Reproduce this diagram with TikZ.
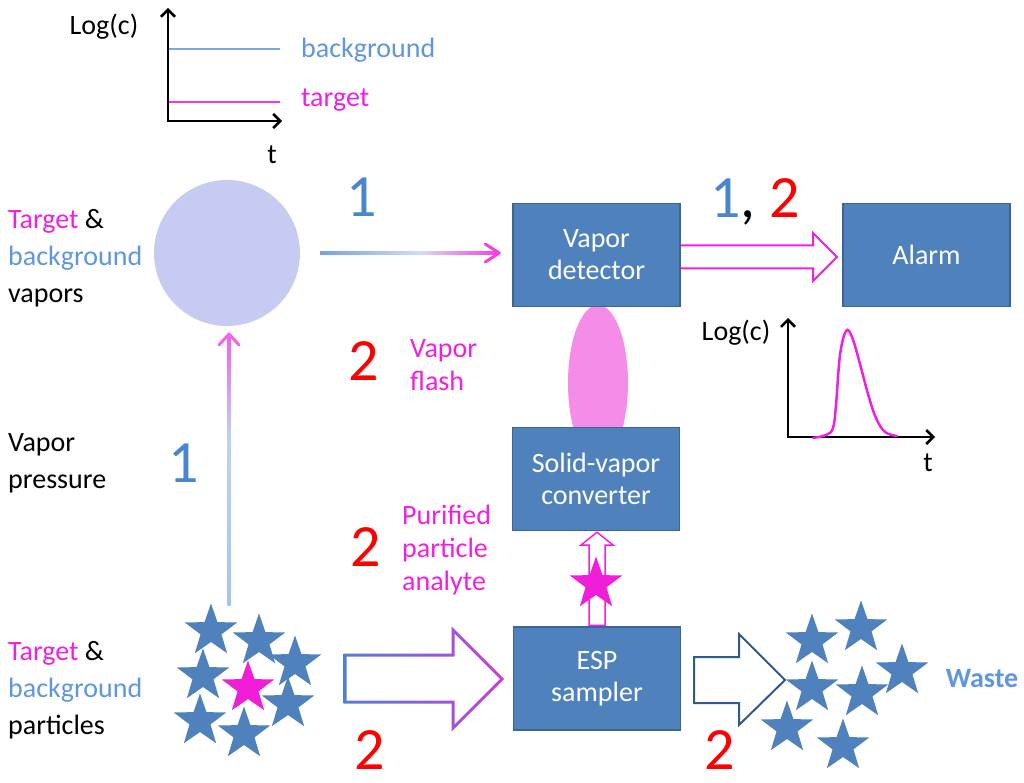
\documentclass[tikz,border=0pt]{standalone}
\usepackage{fontspec}
\setmainfont{Carlito}
\usetikzlibrary{shapes.geometric,arrows.meta,calc}
\definecolor{boxblue}{HTML}{4F81BD}
\definecolor{boxedge}{HTML}{3A6596}
\definecolor{mag}{HTML}{F020E0}
\definecolor{txtblue}{HTML}{5E97DD}
\definecolor{numblue}{HTML}{4A86D0}
\definecolor{numred}{HTML}{FF0000}
\definecolor{circfill}{HTML}{C6CBF1}
\definecolor{ellfill}{HTML}{F48CE8}
\definecolor{starblue}{HTML}{4F81BD}
\definecolor{starmag}{HTML}{F01ED8}
\definecolor{darkarrow}{HTML}{2F5B8C}
\definecolor{lightblue}{HTML}{A8C2EE}
\definecolor{bgline}{HTML}{7AA7E0}
\definecolor{tgline}{HTML}{FF33DD}
\definecolor{arrblue}{HTML}{78A3DD}
\definecolor{arrpale}{HTML}{D2DDF3}
\definecolor{grA}{HTML}{5080D0}
\definecolor{grB}{HTML}{7C58D0}
\definecolor{grC}{HTML}{C83CDC}
\begin{document}
\begin{tikzpicture}[x=1pt,y=-1pt,
  box/.style={draw=boxedge, line width=1.5pt, fill=boxblue, minimum width=167pt, minimum height=103pt, text=white, align=center, font=\fontsize{28}{32}\selectfont, inner sep=0pt},
  lbl/.style={align=left, anchor=west, font=\fontsize{28}{37}\selectfont, inner sep=0pt},
  num/.style={font=\fontsize{60}{60}\selectfont, inner sep=0pt, anchor=base},
  bstar/.style={star, star points=5, star point ratio=2.5, minimum size=55pt, inner sep=0pt, fill=starblue},
  axisline/.style={line width=2.5pt, -{Straight Barb[length=7pt,width=14pt]}},
  plainlbl/.style={font=\fontsize{28}{34}\selectfont, inner sep=0pt},
]
\useasboundingbox (0,0) rectangle (1024,783);

% ---------- top graph ----------
\coordinate (o1) at (168,121);
\coordinate (y1) at (168,8);
\coordinate (x1) at (282,121);
\draw[bgline, line width=1.5pt] (169,49) -- (280,49);
\draw[tgline, line width=2pt] (169,102) -- (280,102);
\draw[axisline] (o1) -- (y1);
\draw[axisline] ($(o1)+(-1.25,0)$) -- (x1);
\node[plainlbl] (logc1) at (104,27) {Log(c)};
\node[plainlbl] (t1) at (272,155) {t};
\node[plainlbl, anchor=west, text=txtblue] (bglab) at (301,50) {background};
\node[plainlbl, anchor=west, text=mag] (tglab) at (301,100) {target};

% ---------- ellipse (behind boxes) ----------
\node[ellipse, fill=ellfill, minimum width=60pt, minimum height=156pt, inner sep=0pt] (flash) at (598,383) {};

% ---------- boxes ----------
\node[box] (vd) at (596.5,255) {Vapor\\detector};
\node[box] (al) at (926.5,255) {Alarm};
\node[box] (sv) at (596,479) {Solid-vapor\\converter};
\node[box] (esp) at (597,678.5) {ESP\\sampler};

% ---------- vapor circle ----------
\node[circle, fill=circfill, minimum size=146pt, inner sep=0pt] (vap) at (227,253) {};

% ---------- left labels ----------
\node[lbl] (l1) at (8,258) {\textcolor{mag}{Target} \&\\\textcolor{txtblue}{background}\\vapors};
\node[lbl] (l2) at (8,463) {Vapor\\pressure};
\node[lbl] (l3) at (8,690) {\textcolor{mag}{Target} \&\\\textcolor{txtblue}{background}\\particles};
\node[lbl, text=mag, font=\fontsize{28}{33}\selectfont] (l4) at (410,365) {Vapor\\flash};
\node[lbl, text=mag, font=\fontsize{28}{33}\selectfont] (l5) at (402,550) {Purified\\particle\\analyte};

% ---------- numbers ----------
\node[num, text=numblue] (n1) at (362,217) {1};
\node[num] (n12) at (755,218) {\textcolor{numblue}{1}, \textcolor{numred}{2}};
\node[num, text=numred] (n2a) at (364,380) {2};
\node[num, text=numblue] (n1b) at (184,482) {1};
\node[num, text=numred] (n2b) at (366,566) {2};
\node[num, text=numred] (n2c) at (370,769) {2};
\node[num, text=numred] (n2d) at (720,769) {2};

% ---------- horizontal gradient arrow circle -> detector ----------
\coordinate (hA) at ($(vap.east)+(20,0)$);
\coordinate (hB) at ($(vd.west)+(-13,-2)$);
\shade[left color=arrblue, right color=arrpale] ($(hA)+(0,-1.6)$) rectangle ($(hA)+(100,1.6)$);
\shade[left color=arrpale, right color=mag!85!white] ($(hA)+(100,-1.6)$) rectangle ($(hB)+(-2,1.6)$);
\draw[mag!85!white, line width=3pt, line cap=round, line join=round] ($(hB)+(-14,-9)$) -- (hB) -- ($(hB)+(-14,9)$);

% ---------- vertical gradient arrow stars -> circle ----------
\coordinate (vA) at (229,605);
\coordinate (vB) at (229,334);
\shade[bottom color=lightblue, top color=lightblue!75!white] ($(vA)+(-1.6,0)$) rectangle (230.6,440);
\shade[bottom color=lightblue!75!white, top color=mag!70!white] (227.4,440) rectangle ($(vB)+(1.6,3)$);
\draw[mag!70!white, line width=3pt, line cap=round, line join=round] ($(vB)+(-10,11)$) -- (vB) -- ($(vB)+(10,11)$);

% ---------- hollow arrow detector -> alarm ----------
\draw[mag, line width=2pt, line join=miter] (681,245.5) -- (813,245.5) -- (813,233) -- (837,257) -- (813,281) -- (813,268.5) -- (681,268.5);

% ---------- right graph ----------
\coordinate (o2) at (788,437);
\coordinate (y2) at (788,318);
\coordinate (x2) at (935,437);
\draw[axisline] (o2) -- (y2);
\draw[axisline] ($(o2)+(-1.25,0)$) -- (x2);
\draw[mag, line width=2.5pt, line cap=round] plot[smooth, tension=0.6] coordinates {(813,438) (826,435) (833,428) (836,405) (840,355) (846,331) (852,337) (860,364) (868,394) (876,418) (885,432) (897,436)};
\node[plainlbl] (logc2) at (736,333) {Log(c)};
\node[plainlbl] (t2) at (928,463) {t};

% ---------- small hollow arrow ESP -> converter ----------
\draw[mag, line width=1.5pt, fill=white] ($(esp.north)+(-8,-1)$) -- (589,545) -- (581,545) -- ($(sv.south)+(1,1)$) -- (613,545) -- (605,545) -- ($(esp.north)+(8,-1)$) -- cycle;
\node[bstar, fill=starmag] (pstar) at (596,584) {};

% ---------- particle stars ----------
\node[bstar] (s1) at (211,631) {};
\node[bstar] (s2) at (259,641) {};
\node[bstar] (s3) at (295,663) {};
\node[bstar] (s4) at (203,676) {};
\node[bstar] (s5) at (288,704) {};
\node[bstar] (s6) at (200,721) {};
\node[bstar] (s7) at (244,734) {};
\node[bstar, fill=starmag] (s8) at (248,688) {};

% ---------- big gradient hollow arrow particles -> ESP ----------
\shade[left color=grA, middle color=grB, right color=grC] (343.5,653.5) -- (451.5,653.5) -- (451.5,626.4) -- (504.1,679) -- (451.5,731.6) -- (451.5,703.5) -- (343.5,703.5) -- cycle;
\fill[white] (346.5,656.5) -- (454.5,656.5) -- (454.5,633.6) -- (499.9,679) -- (454.5,724.4) -- (454.5,700.5) -- (346.5,700.5) -- cycle;

% ---------- hollow arrow ESP -> waste ----------
\draw[darkarrow, line width=2pt, fill=white] (694,657) -- (739,657) -- (739,634) -- (785,680) -- (739,725) -- (739,703) -- (694,703) -- cycle;

% ---------- waste stars ----------
\node[bstar] (w1) at (812,641) {};
\node[bstar] (w2) at (861,628) {};
\node[bstar] (w3) at (902,671) {};
\node[bstar] (w4) at (812,688) {};
\node[bstar] (w5) at (862,693) {};
\node[bstar] (w6) at (787,728) {};
\node[bstar] (w7) at (843,746) {};
\node[plainlbl, text=txtblue, font=\fontsize{28}{34}\selectfont\bfseries] (waste) at (982,679) {Waste};
\end{tikzpicture}
\end{document}
